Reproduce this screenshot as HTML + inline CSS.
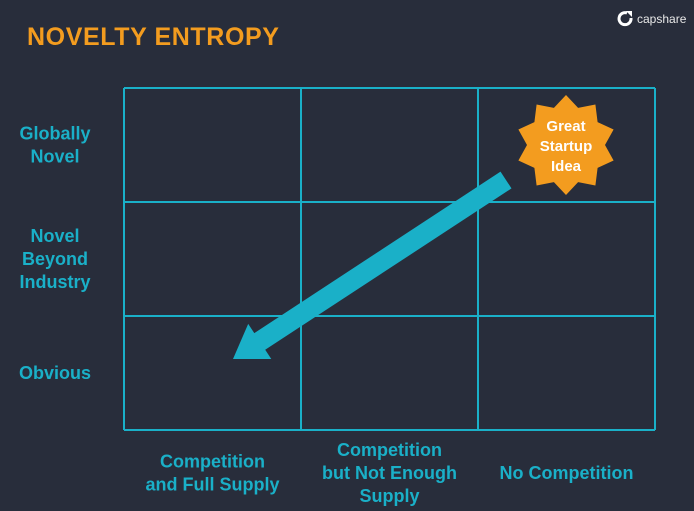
<!DOCTYPE html>
<html><head><meta charset="utf-8"><style>
body{margin:0;width:694px;height:511px;background:#282d3b;overflow:hidden;font-family:"Liberation Sans",sans-serif;}
svg{position:absolute;left:0;top:0}
</style></head><body>
<svg width="694" height="511">
<text x="27" y="45" fill="#f39c1f" font-size="25" font-weight="bold" letter-spacing="0.6">NOVELTY ENTROPY</text>
<g>
<path d="M627 13 A6 6 0 1 0 631 18" fill="none" stroke="#fff" stroke-width="3"/>
<path d="M626 11 L632 11 L632 17 Z" fill="#fff"/>
<text x="637" y="23" fill="#e8e8e8" font-size="12">capshare</text>
</g>
<g id="grid"></g>
<g id="labels"></g>
<polygon id="star" fill="#f39c1f"/>
<g fill="#fff" font-size="15" font-weight="bold" text-anchor="middle">
<text x="566" y="131">Great</text><text x="566" y="151">Startup</text><text x="566" y="171">Idea</text></g>
<polygon id="arrow" fill="#1ab0c8"/>
</svg>
<script>
const colLabels=[["Competition","and Full Supply"],["Competition","but Not Enough","Supply"],["No Competition"]];
const rowLabels=[["Globally","Novel"],["Novel","Beyond","Industry"],["Obvious"]];
const x0=124,x1=655,y0=88,y1=430;
const ns="http://www.w3.org/2000/svg";
const g=document.getElementById('grid');
const cw=(x1-x0)/3,ch=(y1-y0)/3;
for(let i=0;i<=3;i++){
 let l=document.createElementNS(ns,'line');
 
 
 l.setAttribute('x1',x0+i*cw);l.setAttribute('x2',x0+i*cw);l.setAttribute('y1',y0);l.setAttribute('y2',y1);
 l.setAttribute('stroke','#1ab0c8');l.setAttribute('stroke-width','2');g.appendChild(l);
 let h=document.createElementNS(ns,'line');
 
 
 h.setAttribute('y1',y0+i*ch);h.setAttribute('y2',y0+i*ch);h.setAttribute('x1',x0);h.setAttribute('x2',x1);
 h.setAttribute('stroke','#1ab0c8');h.setAttribute('stroke-width','2');g.appendChild(h);
}
const lg=document.getElementById('labels');
function addText(lines,x,cy,anchor,name){
 const t=document.createElementNS(ns,'text');
 
 
 t.setAttribute('fill','#1ab0c8');t.setAttribute('font-size','18');t.setAttribute('font-weight','bold');t.setAttribute('text-anchor',anchor);
 const lh=23,start=cy-(lines.length-1)*lh/2+6;
 lines.forEach((s,i)=>{const sp=document.createElementNS(ns,'tspan');sp.setAttribute('x',x);sp.setAttribute('y',start+i*lh);sp.textContent=s;t.appendChild(sp);});
 lg.appendChild(t);
}
colLabels.forEach((c,i)=>addText(c,x0+cw*(i+0.5),473,'middle','column-label'));
rowLabels.forEach((r,i)=>addText(r,55,y0+ch*(i+0.5),'middle','row-label'));
let pts=[],cx=566,cy=145,n=10;
for(let i=0;i<2*n;i++){const r=i%2?39:50,a=-Math.PI/2+i*Math.PI/n;pts.push((cx+r*Math.cos(a)).toFixed(1)+','+(cy+r*Math.sin(a)).toFixed(1));}
document.getElementById('star').setAttribute('points',pts.join(' '));
const ax=506,ay=180,bx=233,by=359;
const dx=bx-ax,dy=by-ay,L=Math.hypot(dx,dy),ux=dx/L,uy=dy/L,px=-uy,py=ux;
const w=10,hw=21,hl=32;
const bxh=bx-ux*hl,byh=by-uy*hl;
const P=[[ax+px*w,ay+py*w],[bxh+px*w,byh+py*w],[bxh+px*hw,byh+py*hw],[bx,by],[bxh-px*hw,byh-py*hw],[bxh-px*w,byh-py*w],[ax-px*w,ay-py*w]];
document.getElementById('arrow').setAttribute('points',P.map(p=>p[0].toFixed(1)+','+p[1].toFixed(1)).join(' '));
</script>
</body></html>
